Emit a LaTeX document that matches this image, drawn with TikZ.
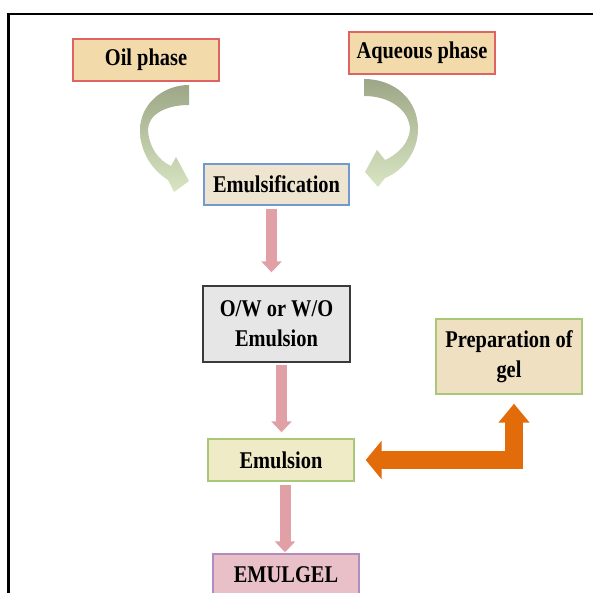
\documentclass[tikz,border=0pt]{standalone}
\usepackage{fontspec}
\setmainfont{Liberation Serif}[FakeStretch=0.85]
\usetikzlibrary{arrows.meta}
\definecolor{tanfill}{HTML}{F3DAAA}
\definecolor{redline}{HTML}{DE6464}
\definecolor{beigefill}{HTML}{EEE5D0}
\definecolor{blueline}{HTML}{7398D2}
\definecolor{greyfill}{HTML}{E6E6E6}
\definecolor{darkline}{HTML}{3A3A3A}
\definecolor{yelfill}{HTML}{EEEBC6}
\definecolor{greenline}{HTML}{A8C878}
\definecolor{gelfill}{HTML}{EFE0C2}
\definecolor{pinkfill}{HTML}{EAC0C8}
\definecolor{purpline}{HTML}{B08CC0}
\definecolor{pinkarrow}{HTML}{E0A0A6}
\definecolor{orangearrow}{HTML}{E36C0A}
\definecolor{curvetop}{HTML}{9DA787}
\definecolor{curvemid}{HTML}{B9C6A0}
\definecolor{curvebot}{HTML}{D8E5C2}
\begin{document}
\begin{tikzpicture}[x=1pt,y=-1pt,
  box/.style={draw, line width=1.4pt, align=center, inner sep=0pt,
    font=\fontsize{24}{30}\selectfont\bfseries, minimum width=146pt, minimum height=42pt},
  downarrow/.style={pinkarrow, line width=11pt, -{Triangle[width=20pt,length=11pt]}},
  curvearrow/.style={top color=curvetop, middle color=curvemid, bottom color=curvebot, draw=none}]
\useasboundingbox (0,0) rectangle (593,592);
% frame
\draw[line width=2.5pt] (8.5,593) -- (8.5,14) -- (594,14);
% curved arrows
\shade[curvearrow] (189,85) .. controls (162,85) and (140,105) .. (140,130)
  .. controls (140,152) and (152,170) .. (168,180)
  -- (174,192) -- (189,181) -- (176,157) -- (171,166)
  .. controls (158,160) and (149,147) .. (148,130)
  .. controls (148,115) and (165,105) .. (189,105) -- cycle;
\shade[curvearrow] (364,79) .. controls (395,79) and (418,100) .. (418,129)
  .. controls (418,150) and (405,170) .. (385,178)
  -- (378,187) -- (365,172) -- (377,150) -- (385,160)
  .. controls (400,153) and (409,142) .. (410,129)
  .. controls (409,110) and (390,96) .. (364,96) -- cycle;
% boxes
\node[box, fill=tanfill, draw=redline] (oil) at (146,60) {Oil phase};
\node[box, fill=tanfill, draw=redline] (aq) at (422,53) {Aqueous phase};
\node[box, fill=beigefill, draw=blueline, minimum width=145pt, minimum height=41pt] (emf) at (276.5,184.5) {Emulsification};
\node[box, fill=greyfill, draw=darkline, minimum width=147pt, minimum height=76pt] (ow) at (276.5,324) {O/W or W/O\\Emulsion};
\node[box, fill=yelfill, draw=greenline] (emu) at (281,460) {Emulsion};
\node[box, fill=gelfill, draw=greenline, minimum height=75pt] (prep) at (509,356.5) {Preparation of\\gel};
\node[box, fill=pinkfill, draw=purpline] (gel) at (286,575) {EMULGEL};
% arrows
\draw[downarrow, shorten <=3pt, shorten >=13pt] ([xshift=-5pt]emf.south) -- ([xshift=-5pt]ow.north);
\draw[downarrow, shorten <=2pt, shorten >=6pt] ([xshift=5pt]ow.south) -- ([xshift=5pt]ow.south |- emu.north);
\draw[downarrow, shorten <=3pt, shorten >=1pt] ([xshift=4pt]emu.south) -- ([xshift=4pt]emu.south |- gel.north);
\draw[orangearrow, line width=18pt, line join=miter,
  {Triangle[width=38pt,length=16pt]}-{Triangle[width=30pt,length=19pt]},
  shorten <=11pt, shorten >=9pt] (emu.east) -| ([xshift=5pt]prep.south);
\end{tikzpicture}
\end{document}
